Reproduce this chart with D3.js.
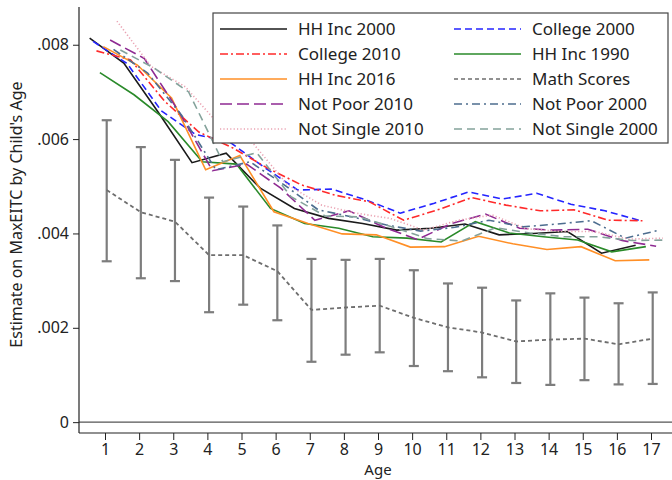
<!DOCTYPE html>
<html>
<head>
<meta charset="utf-8">
<script src="https://cdn.jsdelivr.net/npm/d3@7/dist/d3.min.js"></script>
<style>
  html, body { margin: 0; padding: 0; background: #fff; }
  svg { display: block; }
  text { font-family: "Noto Sans", "Open Sans", sans-serif; fill: #222; }
</style>
</head>
<body>
<svg id="chart" width="672" height="480"></svg>
<script>
// Child's age (x) and estimated MaxEITC coefficients for each sample
const ages = [1, 2, 3, 4, 5, 6, 7, 8, 9, 10, 11, 12, 13, 14, 15, 16, 17];

const hhInc2000     = [.00814, .00761, .00658, .00550, .00570, .00496, .00453, .00432, .00421, .00407, .00411, .00420, .00397, .00400, .00404, .00358, .00375];
const college2000   = [.00807, .00760, .00660, .00610, .00594, .00541, .00492, .00494, .00471, .00443, .00464, .00488, .00473, .00485, .00462, .00448, .00428];
const college2010   = [.00787, .00768, .00680, .00615, .00581, .00539, .00503, .00481, .00467, .00428, .00450, .00476, .00460, .00448, .00450, .00428, .00427];
const hhInc1990     = [.00741, .00694, .00637, .00552, .00547, .00453, .00421, .00411, .00393, .00390, .00382, .00425, .00401, .00393, .00386, .00361, .00372];
const hhInc2016     = [.00796, .00757, .00687, .00535, .00565, .00446, .00421, .00399, .00397, .00371, .00372, .00394, .00378, .00366, .00372, .00342, .00344];
const mathScores    = [.00492, .00445, .00425, .00354, .00354, .00320, .00238, .00243, .00247, .00221, .00201, .00190, .00171, .00175, .00177, .00165, .00177];
const mathLow       = [.00341, .00305, .00299, .00233, .00249, .00216, .00128, .00143, .00148, .00119, .00108, .00095, .00083, .00079, .00089, .00080, .00081];
const mathHigh      = [.00640, .00583, .00556, .00476, .00457, .00417, .00346, .00344, .00346, .00322, .00294, .00285, .00258, .00273, .00264, .00252, .00275];
const notPoor2010   = [.00810, .00771, .00660, .00533, .00547, .00496, .00428, .00448, .00414, .00387, .00421, .00441, .00411, .00407, .00409, .00385, .00373];
const notPoor2000   = [.00790, .00740, .00650, .00535, .00552, .00503, .00450, .00435, .00418, .00405, .00413, .00428, .00414, .00420, .00427, .00390, .00407];
const notSingle2010 = [.00850, .00754, .00711, .00630, .00590, .00503, .00460, .00443, .00432, .00407, .00428, .00439, .00410, .00404, .00404, .00388, .00390];
const notSingle2000 = [.00789, .00750, .00700, .00552, .00571, .00478, .00437, .00435, .00413, .00389, .00384, .00412, .00401, .00393, .00393, .00385, .00386];

const yTicks = [0, .002, .004, .006, .008];
const yTickLabels = ["0", ".002", ".004", ".006", ".008"];

// Legend entries in display order (two columns, filled row by row)
const series = [
  { name: "HH Inc 2000",     values: hhInc2000,     color: "#1a1a1a", dash: null },
  { name: "College 2000",    values: college2000,   color: "#2424ff", dash: "7,4" },
  { name: "College 2010",    values: college2010,   color: "#ff2a2a", dash: "8,3,2,3" },
  { name: "HH Inc 1990",     values: hhInc1990,     color: "#2a8a2a", dash: null },
  { name: "HH Inc 2016",     values: hhInc2016,     color: "#ff8f26", dash: null },
  { name: "Math Scores",     values: mathScores,    color: "#6e6e6e", dash: "4,3", ci: true },
  { name: "Not Poor 2010",   values: notPoor2010,   color: "#8e2a92", dash: "12,5" },
  { name: "Not Poor 2000",   values: notPoor2000,   color: "#4d6d8f", dash: "8,4,2,4" },
  { name: "Not Single 2010", values: notSingle2010, color: "#eaa2b2", dash: "1.2,2.2" },
  { name: "Not Single 2000", values: notSingle2000, color: "#84a29b", dash: "8,5" }
];

const svg = d3.select("#chart");
const axisLeftX = 79, axisBottomY = 433, plotTop = 7, plotRight = 672;
const fontFamily = "'Noto Sans', 'Open Sans', sans-serif";

const x = d3.scaleLinear().domain([1, 17]).range([105, 651]);
const y = d3.scaleLinear().domain([-0.00023, 0.0088]).range([axisBottomY, plotTop]);

// Each series is nudged sideways so overlapping estimates stay visible
const offset = i => (i - 4.5) * 0.1;

// Zero reference line
svg.append("line")
  .attr("x1", axisLeftX).attr("x2", plotRight)
  .attr("y1", y(0)).attr("y2", y(0))
  .attr("stroke", "#555").attr("stroke-width", 1.4);

// Y axis
const yAxis = d3.axisLeft(y).tickValues(yTicks)
  .tickFormat((d, i) => yTickLabels[i]).tickSize(6).tickPadding(4);
const gy = svg.append("g").attr("transform", `translate(${axisLeftX},0)`).call(yAxis);
gy.select(".domain").attr("d", `M0,${plotTop}V${axisBottomY}`).attr("stroke", "#222").attr("stroke-width", 1.2);
gy.selectAll(".tick line").attr("stroke", "#222");
gy.selectAll(".tick text").style("font-size", "16px").style("font-family", fontFamily).attr("fill", "#222");

// X axis
const xAxis = d3.axisBottom(x).tickValues(ages).tickFormat(d3.format("d")).tickSize(7).tickPadding(4);
const gx = svg.append("g").attr("transform", `translate(0,${axisBottomY})`).call(xAxis);
gx.select(".domain").attr("d", `M${axisLeftX},0H${plotRight}`).attr("stroke", "#222").attr("stroke-width", 1.2);
gx.selectAll(".tick line").attr("stroke", "#222");
gx.selectAll(".tick text").style("font-size", "16px").style("font-family", fontFamily).attr("fill", "#222");

// Axis titles
svg.append("text")
  .attr("x", x(9)).attr("y", 475)
  .attr("text-anchor", "middle")
  .style("font-size", "15px")
  .text("Age");

svg.append("text")
  .attr("transform", `translate(22,${y(0.0044)}) rotate(-90)`)
  .attr("text-anchor", "middle")
  .style("font-size", "16px")
  .text("Estimate on MaxEITC by Child's Age");

// Confidence intervals for math scores
const mathIdx = series.findIndex(s => s.ci);
const ciG = svg.append("g");
ages.forEach((a, j) => {
  const cx = x(a + offset(mathIdx));
  ciG.append("line").attr("x1", cx).attr("x2", cx)
    .attr("y1", y(mathLow[j])).attr("y2", y(mathHigh[j]))
    .attr("stroke", "#7d7d7d").attr("stroke-width", 2.2);
  [mathLow[j], mathHigh[j]].forEach(v => {
    ciG.append("line").attr("x1", cx - 5).attr("x2", cx + 5)
      .attr("y1", y(v)).attr("y2", y(v))
      .attr("stroke", "#7d7d7d").attr("stroke-width", 2.2);
  });
});

// Estimate lines
series.forEach((s, i) => {
  const line = d3.line()
    .x((d, j) => x(ages[j] + offset(i)))
    .y(d => y(d));
  svg.append("path")
    .datum(s.values)
    .attr("d", line)
    .attr("fill", "none")
    .attr("stroke", s.color)
    .attr("stroke-width", s.ci ? 1.8 : 1.6)
    .attr("stroke-dasharray", s.dash);
});

// Legend
const lg = svg.append("g");
lg.append("rect")
  .attr("x", 213).attr("y", 13).attr("width", 455).attr("height", 130)
  .attr("fill", "#fff").attr("stroke", "#444").attr("stroke-width", 1.2);
series.forEach((s, i) => {
  const col = i % 2, row = Math.floor(i / 2);
  const lx = col === 0 ? 220 : 454;
  const ly = 29 + row * 25;
  lg.append("line")
    .attr("x1", lx).attr("x2", lx + 67)
    .attr("y1", ly).attr("y2", ly)
    .attr("stroke", s.color).attr("stroke-width", 1.6)
    .attr("stroke-dasharray", s.dash);
  lg.append("text")
    .attr("x", lx + 78).attr("y", ly)
    .attr("dy", "0.35em")
    .style("font-size", "17px")
    .text(s.name);
});
</script>
</body>
</html>
